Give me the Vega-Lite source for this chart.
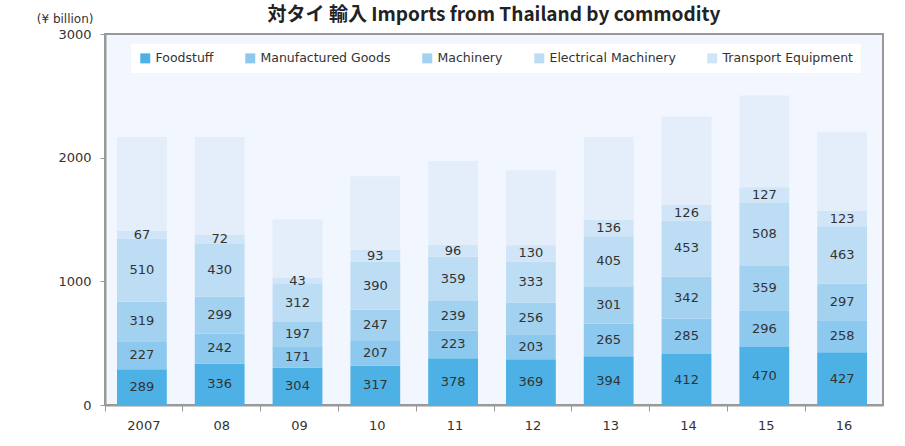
{
  "$schema": "https://vega.github.io/schema/vega-lite/v6.json",
  "width": 778,
  "height": 371,
  "autosize": {"type": "none"},
  "padding": {"left": 105, "top": 34, "right": 22, "bottom": 41},
  "background": "white",
  "title": {
    "text": "対タイ 輸入  Imports from Thailand by commodity",
    "font": "Noto Sans CJK JP",
    "fontSize": 19,
    "fontWeight": "bold",
    "color": "#222222",
    "anchor": "middle",
    "frame": "group",
    "baseline": "alphabetic",
    "offset": 0,
    "dy": 28
  },
  "config": {
    "view": {"fill": "#F2F6FE", "stroke": "#999999", "strokeWidth": 2},
    "font": "DejaVu Sans"
  },
  "data": {
    "values": [
      {"year": "2007", "cat": "Foodstuff", "order": 1, "value": 289},
      {"year": "2007", "cat": "Manufactured Goods", "order": 2, "value": 227},
      {"year": "2007", "cat": "Machinery", "order": 3, "value": 319},
      {"year": "2007", "cat": "Electrical Machinery", "order": 4, "value": 510},
      {"year": "2007", "cat": "Transport Equipment", "order": 5, "value": 67},
      {"year": "2007", "cat": "Other", "order": 6, "value": 756},
      {"year": "08", "cat": "Foodstuff", "order": 1, "value": 336},
      {"year": "08", "cat": "Manufactured Goods", "order": 2, "value": 242},
      {"year": "08", "cat": "Machinery", "order": 3, "value": 299},
      {"year": "08", "cat": "Electrical Machinery", "order": 4, "value": 430},
      {"year": "08", "cat": "Transport Equipment", "order": 5, "value": 72},
      {"year": "08", "cat": "Other", "order": 6, "value": 789},
      {"year": "09", "cat": "Foodstuff", "order": 1, "value": 304},
      {"year": "09", "cat": "Manufactured Goods", "order": 2, "value": 171},
      {"year": "09", "cat": "Machinery", "order": 3, "value": 197},
      {"year": "09", "cat": "Electrical Machinery", "order": 4, "value": 312},
      {"year": "09", "cat": "Transport Equipment", "order": 5, "value": 43},
      {"year": "09", "cat": "Other", "order": 6, "value": 473},
      {"year": "10", "cat": "Foodstuff", "order": 1, "value": 317},
      {"year": "10", "cat": "Manufactured Goods", "order": 2, "value": 207},
      {"year": "10", "cat": "Machinery", "order": 3, "value": 247},
      {"year": "10", "cat": "Electrical Machinery", "order": 4, "value": 390},
      {"year": "10", "cat": "Transport Equipment", "order": 5, "value": 93},
      {"year": "10", "cat": "Other", "order": 6, "value": 596},
      {"year": "11", "cat": "Foodstuff", "order": 1, "value": 378},
      {"year": "11", "cat": "Manufactured Goods", "order": 2, "value": 223},
      {"year": "11", "cat": "Machinery", "order": 3, "value": 239},
      {"year": "11", "cat": "Electrical Machinery", "order": 4, "value": 359},
      {"year": "11", "cat": "Transport Equipment", "order": 5, "value": 96},
      {"year": "11", "cat": "Other", "order": 6, "value": 678},
      {"year": "12", "cat": "Foodstuff", "order": 1, "value": 369},
      {"year": "12", "cat": "Manufactured Goods", "order": 2, "value": 203},
      {"year": "12", "cat": "Machinery", "order": 3, "value": 256},
      {"year": "12", "cat": "Electrical Machinery", "order": 4, "value": 333},
      {"year": "12", "cat": "Transport Equipment", "order": 5, "value": 130},
      {"year": "12", "cat": "Other", "order": 6, "value": 608},
      {"year": "13", "cat": "Foodstuff", "order": 1, "value": 394},
      {"year": "13", "cat": "Manufactured Goods", "order": 2, "value": 265},
      {"year": "13", "cat": "Machinery", "order": 3, "value": 301},
      {"year": "13", "cat": "Electrical Machinery", "order": 4, "value": 405},
      {"year": "13", "cat": "Transport Equipment", "order": 5, "value": 136},
      {"year": "13", "cat": "Other", "order": 6, "value": 667},
      {"year": "14", "cat": "Foodstuff", "order": 1, "value": 412},
      {"year": "14", "cat": "Manufactured Goods", "order": 2, "value": 285},
      {"year": "14", "cat": "Machinery", "order": 3, "value": 342},
      {"year": "14", "cat": "Electrical Machinery", "order": 4, "value": 453},
      {"year": "14", "cat": "Transport Equipment", "order": 5, "value": 126},
      {"year": "14", "cat": "Other", "order": 6, "value": 713},
      {"year": "15", "cat": "Foodstuff", "order": 1, "value": 470},
      {"year": "15", "cat": "Manufactured Goods", "order": 2, "value": 296},
      {"year": "15", "cat": "Machinery", "order": 3, "value": 359},
      {"year": "15", "cat": "Electrical Machinery", "order": 4, "value": 508},
      {"year": "15", "cat": "Transport Equipment", "order": 5, "value": 127},
      {"year": "15", "cat": "Other", "order": 6, "value": 743},
      {"year": "16", "cat": "Foodstuff", "order": 1, "value": 427},
      {"year": "16", "cat": "Manufactured Goods", "order": 2, "value": 258},
      {"year": "16", "cat": "Machinery", "order": 3, "value": 297},
      {"year": "16", "cat": "Electrical Machinery", "order": 4, "value": 463},
      {"year": "16", "cat": "Transport Equipment", "order": 5, "value": 123},
      {"year": "16", "cat": "Other", "order": 6, "value": 641}
    ]
  },
  "transform": [
    {"window": [{"op": "sum", "field": "value", "as": "cum"}], "groupby": ["year"], "sort": [{"field": "order"}], "frame": [null, 0]},
    {"calculate": "datum.cum - datum.value / 2", "as": "mid"}
  ],
  "encoding": {
    "x": {
      "field": "year",
      "type": "nominal",
      "sort": null,
      "scale": {"paddingInner": 0, "paddingOuter": 0},
      "axis": {
        "title": null,
        "labelAngle": 0,
        "labelFont": "DejaVu Sans",
        "labelFontSize": 13,
        "labelColor": "#333333",
        "labelPadding": 8,
        "bandPosition": 0,
        "tickSize": 6,
        "tickColor": "#999999",
        "domainColor": "#999999",
        "domainWidth": 2,
        "ticks": true
      }
    }
  },
  "layer": [
    {
      "mark": {"type": "bar", "width": {"band": 0.64}, "xOffset": -2},
      "encoding": {
        "y": {
          "field": "value",
          "type": "quantitative",
          "stack": "zero",
          "scale": {"domain": [0, 3000], "nice": false},
          "axis": {
            "title": "(¥ billion)",
            "titleAngle": 0,
            "titleAlign": "right",
            "titleBaseline": "middle",
            "titleX": -12,
            "titleY": -16,
            "titleFont": "DejaVu Sans",
            "titleFontSize": 12,
            "titleFontWeight": "normal",
            "titleColor": "#333333",
            "values": [0, 1000, 2000, 3000],
            "format": "d",
            "grid": false,
            "labelFont": "DejaVu Sans",
            "labelFontSize": 13,
            "labelColor": "#333333",
            "labelPadding": 9,
            "tickSize": 5,
            "tickColor": "#999999",
            "domainColor": "#999999",
            "domainWidth": 2
          }
        },
        "order": {"field": "order", "type": "quantitative"},
        "color": {
          "field": "cat",
          "type": "nominal",
          "scale": {
            "domain": ["Foodstuff", "Manufactured Goods", "Machinery", "Electrical Machinery", "Transport Equipment", "Other"],
            "range": ["#4DB1E6", "#8DC9EE", "#A3D2F1", "#BDDDF4", "#D0E5F7", "#E3EEFA"]
          },
          "legend": {
            "title": null,
            "values": ["Foodstuff", "Manufactured Goods", "Machinery", "Electrical Machinery", "Transport Equipment"],
            "orient": "none",
            "legendX": 26,
            "legendY": 10,
            "direction": "horizontal",
            "fillColor": "white",
            "padding": 8,
            "symbolType": "square",
            "symbolSize": 100,
            "symbolStrokeWidth": 0,
            "symbolOpacity": 1,
            "labelFont": "DejaVu Sans",
            "labelFontSize": 12.5,
            "labelColor": "#333333",
            "labelOffset": 4,
            "columnPadding": 30
          }
        }
      }
    },
    {
      "transform": [{"filter": "datum.cat != 'Other'"}],
      "mark": {"type": "text", "font": "DejaVu Sans", "fontSize": 13, "color": "#333333", "baseline": "middle", "dx": -2},
      "encoding": {
        "y": {"field": "mid", "type": "quantitative"},
        "text": {"field": "value", "type": "quantitative"}
      }
    }
  ]
}
